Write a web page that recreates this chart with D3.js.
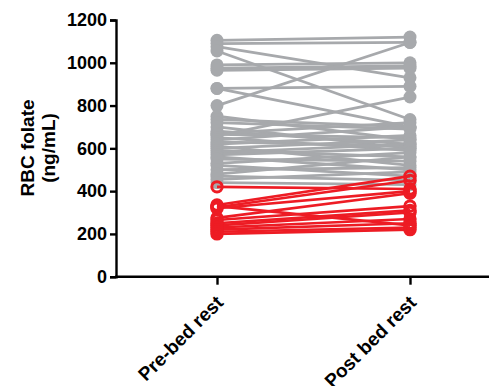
<!DOCTYPE html>
<html><head><meta charset="utf-8">
<script src="https://cdn.jsdelivr.net/npm/d3@7"></script>
<style>body{margin:0;background:#fff}svg{display:block}text{font-family:Arial,"Liberation Sans",sans-serif;font-weight:bold}</style>
</head><body><svg id="c" width="489" height="386"></svg>
<script>
const categories = ["Pre-bed rest", "Post bed rest"];
const yTicks = [0, 200, 400, 600, 800, 1000, 1200];
const grayPre  = [1105,1090,1075,1055,990,975,965,880,880,800,660,750,735,720,700,680,670,665,650,640,630,620,610,600,590,580,570,560,550,530,520,500,480,470,455,440];
const grayPost = [1120,1095,930,735,1000,985,975,890,700,1095,840,640,700,690,600,620,720,650,590,700,610,660,520,640,560,620,600,500,540,580,470,510,560,450,490,430];
const redPre   = [420,335,330,325,320,275,265,250,240,230,220,210,200];
const redPost  = [410,470,240,450,400,390,330,310,300,270,250,230,220];

const svg = d3.select("#c");
const y = d3.scaleLinear().domain([0,1200]).range([276.7,20]);
const x = d3.scalePoint().domain(categories).range([217,410]);
const gray = "#a7a9ac", red = "#ed1c24";
const font = "Arial, Liberation Sans, sans-serif";

function pairs(a,b){ return a.map((v,i)=>[v,b[i]]); }
const line = d3.line().x((d,i)=>x(categories[i])).y(d=>y(d));

const g = svg.append("g");
pairs(grayPre,grayPost).forEach(p=>{
  g.append("path").attr("d",line(p)).attr("fill","none").attr("stroke",gray).attr("stroke-width",2.8);
});
pairs(grayPre,grayPost).forEach(p=>{
  p.forEach((v,i)=>g.append("circle").attr("cx",x(categories[i])).attr("cy",y(v)).attr("r",6.5).attr("fill",gray));
});
pairs(redPre,redPost).forEach(p=>{
  g.append("path").attr("d",line(p)).attr("fill","none").attr("stroke",red).attr("stroke-width",2.6);
});
pairs(redPre,redPost).forEach(p=>{
  p.forEach((v,i)=>g.append("circle").attr("cx",x(categories[i])).attr("cy",y(v)).attr("r",5.2).attr("fill","none").attr("stroke",red).attr("stroke-width",3));
});

// y axis
const ya = svg.append("g").attr("transform","translate(116,0)")
  .call(d3.axisLeft(y).tickValues(yTicks).tickSize(6).tickPadding(3).tickFormat(d3.format("d")));
ya.select(".domain").attr("stroke","#000").attr("stroke-width",2.4);
ya.selectAll(".tick line").attr("stroke","#000").attr("stroke-width",2.4);
ya.selectAll(".tick text").attr("font-size",18).attr("font-weight","bold").attr("fill","#000").attr("font-family",font);

// x axis
const xa = svg.append("g").attr("transform","translate(0,276.7)")
  .call(d3.axisBottom(x).tickSize(8).tickPadding(0));
xa.select(".domain").remove();
xa.append("line").attr("x1",115).attr("x2",489).attr("stroke","#000").attr("stroke-width",2.4);
xa.selectAll(".tick line").attr("stroke","#000").attr("stroke-width",2.4);
xa.selectAll(".tick text").attr("font-size",19).attr("font-weight","bold").attr("fill","#000")
  .attr("font-family",font)
  .attr("text-anchor","end").attr("y",0).attr("dy","0").attr("transform","translate(7,27) rotate(-45)");

// y title
const yt = svg.append("text").attr("transform","translate(34,148) rotate(-90)")
  .attr("text-anchor","middle").attr("font-size",19).attr("fill","#000").attr("font-family",font);
yt.append("tspan").attr("x",0).attr("dy",0).text("RBC folate");
yt.append("tspan").attr("x",0).attr("dy",21).text("(ng/mL)");
</script></body></html>
